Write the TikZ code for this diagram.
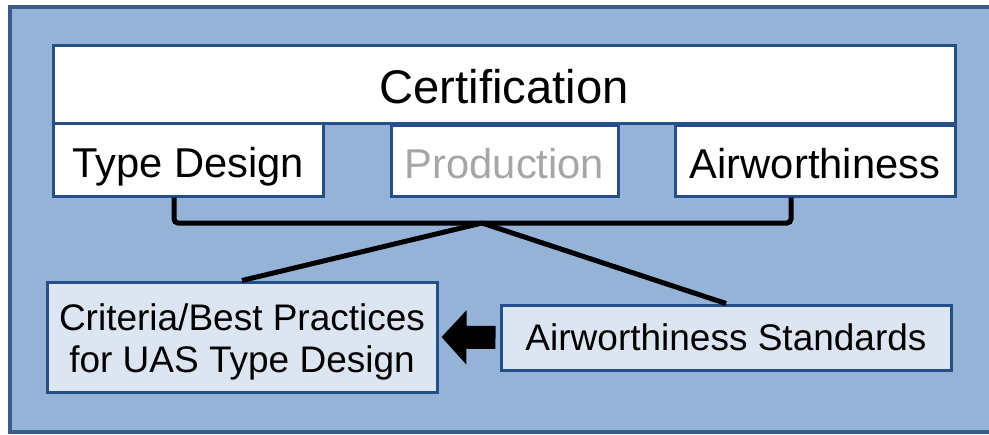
\documentclass[tikz,border=0pt]{standalone}
\usepackage{fontspec}
\setmainfont{Liberation Sans}
\usetikzlibrary{arrows.meta}
\definecolor{panel}{RGB}{149,179,215}
\definecolor{frame}{RGB}{56,93,138}
\definecolor{edge}{RGB}{37,79,136}
\definecolor{pale}{RGB}{220,230,242}
\definecolor{faded}{RGB}{166,166,166}

\begin{document}
\begin{tikzpicture}[x=0.5pt, y=-0.5pt,
        box/.style={draw=edge, line width=1.5pt, fill=white, inner sep=0pt, text depth=0pt},
        tab/.style={box, text height=17.5pt, minimum height=35.5pt, font=\fontsize{20.85}{25}\selectfont},
        low/.style={box, fill=pale, font=\fontsize{18.5}{21}\selectfont},
        link/.style={line width=2.5pt}]
        \useasboundingbox (0,0) rectangle (989,434);
        \fill[white] (0,0) rectangle (989,434);
        \draw[frame, fill=panel, line width=2pt] (1000,7) -- (10,7) -- (10,432) -- (1000,432);

        \node[box, text height=19pt, minimum width=451pt, minimum height=39pt, font=\fontsize{23.6}{28}\selectfont] at (504,84) (cert) {Certification};
        \node[tab, minimum width=135pt, minimum height=36.5pt] at (188,159.5) (type) {Type Design};
        \node[tab, minimum width=113.5pt, text=faded] at (504.5,160.5) (prod) {Production};
        \node[tab, minimum width=140pt] at (815,160.5) (airw) {Airworthiness};
        \node[low, text depth=, minimum width=195pt, minimum height=55pt, align=center] at (242,337) (crit) {\rule{0pt}{18.5pt}Criteria/Best Practices\\for UAS Type Design};
        \node[low, text height=12.5pt, minimum width=225pt, minimum height=32.5pt] at (726,337.5) (std) {Airworthiness Standards};
        \coordinate (apex) at (482,223);

        \draw[link, rounded corners=2pt] ([xshift=-7pt]type.south) |- (apex) -| ([xshift=-12pt]airw.south);
        \draw[link] (apex) -- (crit.north);
        \draw[link] (apex) -- (std.north);
        \draw[line width=11.5pt, -{Triangle[length=12.5pt, width=26.5pt]}, shorten <=2pt, shorten >=1.5pt] (std.west) -- (crit.east);
    \end{tikzpicture}
\end{document}
